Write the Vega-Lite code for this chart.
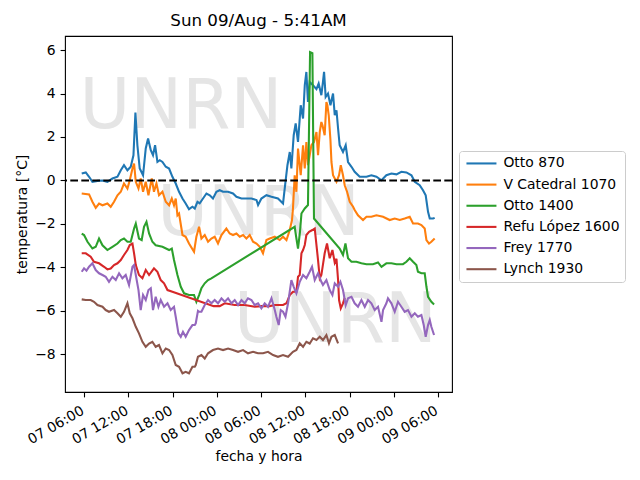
{
  "$schema": "https://vega.github.io/schema/vega-lite/v6.json",
  "width": 387,
  "height": 356,
  "autosize": {"type": "none"},
  "padding": {"left": 65, "top": 36, "right": 188, "bottom": 88},
  "background": "white",
  "config": {
    "font": "DejaVu Sans",
    "view": {"stroke": "black", "strokeWidth": 1.1}
  },
  "title": {
    "text": "Sun 09/Aug - 5:41AM",
    "fontSize": 16.7,
    "fontWeight": "normal",
    "color": "black",
    "baseline": "bottom",
    "anchor": "middle",
    "frame": "group",
    "offset": 8.3,
    "dy": 19
  },
  "datasets": {
    "marks": [
      {"label": "UNRN", "t": "2020-08-07T19:08", "v": 3.37},
      {"label": "UNRN", "t": "2020-08-08T05:40", "v": -1.54},
      {"label": "UNRN", "t": "2020-08-08T16:05", "v": -6.45}
    ],
    "temps": [
      {"s": "Otto 870", "t": "2020-08-07T05:41", "v": 0.32},
      {"s": "Otto 870", "t": "2020-08-07T06:14", "v": 0.37},
      {"s": "Otto 870", "t": "2020-08-07T06:41", "v": 0.17},
      {"s": "Otto 870", "t": "2020-08-07T07:08", "v": -0.06},
      {"s": "Otto 870", "t": "2020-08-07T07:49", "v": -0.02},
      {"s": "Otto 870", "t": "2020-08-07T08:30", "v": 0.0},
      {"s": "Otto 870", "t": "2020-08-07T09:10", "v": -0.06},
      {"s": "Otto 870", "t": "2020-08-07T09:51", "v": 0.09},
      {"s": "Otto 870", "t": "2020-08-07T10:32", "v": 0.17},
      {"s": "Otto 870", "t": "2020-08-07T10:59", "v": 0.47},
      {"s": "Otto 870", "t": "2020-08-07T11:25", "v": 0.70},
      {"s": "Otto 870", "t": "2020-08-07T11:53", "v": 0.47},
      {"s": "Otto 870", "t": "2020-08-07T12:20", "v": 0.63},
      {"s": "Otto 870", "t": "2020-08-07T12:42", "v": 1.16},
      {"s": "Otto 870", "t": "2020-08-07T12:58", "v": 3.12},
      {"s": "Otto 870", "t": "2020-08-07T13:14", "v": 1.62},
      {"s": "Otto 870", "t": "2020-08-07T13:33", "v": 0.55},
      {"s": "Otto 870", "t": "2020-08-07T14:00", "v": 0.24},
      {"s": "Otto 870", "t": "2020-08-07T14:22", "v": 1.47},
      {"s": "Otto 870", "t": "2020-08-07T14:41", "v": 1.93},
      {"s": "Otto 870", "t": "2020-08-07T15:03", "v": 1.39},
      {"s": "Otto 870", "t": "2020-08-07T15:21", "v": 1.16},
      {"s": "Otto 870", "t": "2020-08-07T15:38", "v": 1.62},
      {"s": "Otto 870", "t": "2020-08-07T15:57", "v": 0.85},
      {"s": "Otto 870", "t": "2020-08-07T16:16", "v": 0.93},
      {"s": "Otto 870", "t": "2020-08-07T16:38", "v": 0.85},
      {"s": "Otto 870", "t": "2020-08-07T17:05", "v": 0.63},
      {"s": "Otto 870", "t": "2020-08-07T17:32", "v": 0.55},
      {"s": "Otto 870", "t": "2020-08-07T17:59", "v": 0.17},
      {"s": "Otto 870", "t": "2020-08-07T18:26", "v": -0.14},
      {"s": "Otto 870", "t": "2020-08-07T18:53", "v": -0.52},
      {"s": "Otto 870", "t": "2020-08-07T19:21", "v": -0.83},
      {"s": "Otto 870", "t": "2020-08-07T19:47", "v": -1.06},
      {"s": "Otto 870", "t": "2020-08-07T20:14", "v": -1.32},
      {"s": "Otto 870", "t": "2020-08-07T20:42", "v": -1.21},
      {"s": "Otto 870", "t": "2020-08-07T21:01", "v": -1.29},
      {"s": "Otto 870", "t": "2020-08-07T21:23", "v": -0.98},
      {"s": "Otto 870", "t": "2020-08-07T21:41", "v": -1.05},
      {"s": "Otto 870", "t": "2020-08-07T22:08", "v": -0.83},
      {"s": "Otto 870", "t": "2020-08-07T22:36", "v": -0.60},
      {"s": "Otto 870", "t": "2020-08-07T23:03", "v": -0.68},
      {"s": "Otto 870", "t": "2020-08-07T23:29", "v": -0.83},
      {"s": "Otto 870", "t": "2020-08-07T23:57", "v": -0.52},
      {"s": "Otto 870", "t": "2020-08-08T00:24", "v": -0.45},
      {"s": "Otto 870", "t": "2020-08-08T00:51", "v": -0.52},
      {"s": "Otto 870", "t": "2020-08-08T01:32", "v": -0.52},
      {"s": "Otto 870", "t": "2020-08-08T02:12", "v": -0.60},
      {"s": "Otto 870", "t": "2020-08-08T02:40", "v": -0.75},
      {"s": "Otto 870", "t": "2020-08-08T03:21", "v": -0.83},
      {"s": "Otto 870", "t": "2020-08-08T04:01", "v": -0.83},
      {"s": "Otto 870", "t": "2020-08-08T04:42", "v": -0.83},
      {"s": "Otto 870", "t": "2020-08-08T05:23", "v": -0.90},
      {"s": "Otto 870", "t": "2020-08-08T05:36", "v": -1.13},
      {"s": "Otto 870", "t": "2020-08-08T06:03", "v": -0.83},
      {"s": "Otto 870", "t": "2020-08-08T06:44", "v": -0.68},
      {"s": "Otto 870", "t": "2020-08-08T07:25", "v": -0.75},
      {"s": "Otto 870", "t": "2020-08-08T08:18", "v": -0.83},
      {"s": "Otto 870", "t": "2020-08-08T08:59", "v": -1.06},
      {"s": "Otto 870", "t": "2020-08-08T09:19", "v": -0.06},
      {"s": "Otto 870", "t": "2020-08-08T09:35", "v": 0.70},
      {"s": "Otto 870", "t": "2020-08-08T09:54", "v": 1.31},
      {"s": "Otto 870", "t": "2020-08-08T10:07", "v": 0.55},
      {"s": "Otto 870", "t": "2020-08-08T10:26", "v": 2.08},
      {"s": "Otto 870", "t": "2020-08-08T10:42", "v": 2.62},
      {"s": "Otto 870", "t": "2020-08-08T11:01", "v": 1.77},
      {"s": "Otto 870", "t": "2020-08-08T11:23", "v": 3.46},
      {"s": "Otto 870", "t": "2020-08-08T11:42", "v": 2.85},
      {"s": "Otto 870", "t": "2020-08-08T11:56", "v": 4.38},
      {"s": "Otto 870", "t": "2020-08-08T12:09", "v": 4.99},
      {"s": "Otto 870", "t": "2020-08-08T12:22", "v": 3.61},
      {"s": "Otto 870", "t": "2020-08-08T12:36", "v": 4.53},
      {"s": "Otto 870", "t": "2020-08-08T13:03", "v": 4.38},
      {"s": "Otto 870", "t": "2020-08-08T13:31", "v": 4.20},
      {"s": "Otto 870", "t": "2020-08-08T13:49", "v": 4.46},
      {"s": "Otto 870", "t": "2020-08-08T14:11", "v": 3.92},
      {"s": "Otto 870", "t": "2020-08-08T14:24", "v": 4.53},
      {"s": "Otto 870", "t": "2020-08-08T14:33", "v": 5.0},
      {"s": "Otto 870", "t": "2020-08-08T14:46", "v": 3.84},
      {"s": "Otto 870", "t": "2020-08-08T15:05", "v": 4.0},
      {"s": "Otto 870", "t": "2020-08-08T15:25", "v": 3.46},
      {"s": "Otto 870", "t": "2020-08-08T15:46", "v": 4.0},
      {"s": "Otto 870", "t": "2020-08-08T16:00", "v": 3.0},
      {"s": "Otto 870", "t": "2020-08-08T16:14", "v": 3.23},
      {"s": "Otto 870", "t": "2020-08-08T16:27", "v": 2.39},
      {"s": "Otto 870", "t": "2020-08-08T16:40", "v": 1.62},
      {"s": "Otto 870", "t": "2020-08-08T17:07", "v": 1.31},
      {"s": "Otto 870", "t": "2020-08-08T17:29", "v": 1.62},
      {"s": "Otto 870", "t": "2020-08-08T17:48", "v": 0.85},
      {"s": "Otto 870", "t": "2020-08-08T18:16", "v": 0.63},
      {"s": "Otto 870", "t": "2020-08-08T18:42", "v": 0.40},
      {"s": "Otto 870", "t": "2020-08-08T19:23", "v": 0.17},
      {"s": "Otto 870", "t": "2020-08-08T20:18", "v": 0.17},
      {"s": "Otto 870", "t": "2020-08-08T20:58", "v": 0.24},
      {"s": "Otto 870", "t": "2020-08-08T21:39", "v": 0.17},
      {"s": "Otto 870", "t": "2020-08-08T22:20", "v": 0.01},
      {"s": "Otto 870", "t": "2020-08-08T23:00", "v": 0.24},
      {"s": "Otto 870", "t": "2020-08-08T23:41", "v": 0.32},
      {"s": "Otto 870", "t": "2020-08-09T00:22", "v": 0.28},
      {"s": "Otto 870", "t": "2020-08-09T01:02", "v": 0.40},
      {"s": "Otto 870", "t": "2020-08-09T01:43", "v": 0.37},
      {"s": "Otto 870", "t": "2020-08-09T02:24", "v": 0.24},
      {"s": "Otto 870", "t": "2020-08-09T02:51", "v": -0.06},
      {"s": "Otto 870", "t": "2020-08-09T03:31", "v": -0.22},
      {"s": "Otto 870", "t": "2020-08-09T03:58", "v": -0.45},
      {"s": "Otto 870", "t": "2020-08-09T04:20", "v": -0.68},
      {"s": "Otto 870", "t": "2020-08-09T04:39", "v": -1.44},
      {"s": "Otto 870", "t": "2020-08-09T04:53", "v": -1.75},
      {"s": "Otto 870", "t": "2020-08-09T05:20", "v": -1.75},
      {"s": "Otto 870", "t": "2020-08-09T05:33", "v": -1.72},

      {"s": "V Catedral 1070", "t": "2020-08-07T05:41", "v": -0.60},
      {"s": "V Catedral 1070", "t": "2020-08-07T06:41", "v": -0.64},
      {"s": "V Catedral 1070", "t": "2020-08-07T07:08", "v": -0.98},
      {"s": "V Catedral 1070", "t": "2020-08-07T07:35", "v": -1.26},
      {"s": "V Catedral 1070", "t": "2020-08-07T08:02", "v": -1.06},
      {"s": "V Catedral 1070", "t": "2020-08-07T08:30", "v": -1.14},
      {"s": "V Catedral 1070", "t": "2020-08-07T09:10", "v": -1.06},
      {"s": "V Catedral 1070", "t": "2020-08-07T09:37", "v": -1.21},
      {"s": "V Catedral 1070", "t": "2020-08-07T10:04", "v": -0.98},
      {"s": "V Catedral 1070", "t": "2020-08-07T10:32", "v": -0.68},
      {"s": "V Catedral 1070", "t": "2020-08-07T10:59", "v": -0.52},
      {"s": "V Catedral 1070", "t": "2020-08-07T11:25", "v": -0.14},
      {"s": "V Catedral 1070", "t": "2020-08-07T11:53", "v": -0.37},
      {"s": "V Catedral 1070", "t": "2020-08-07T12:12", "v": 0.01},
      {"s": "V Catedral 1070", "t": "2020-08-07T12:34", "v": 0.55},
      {"s": "V Catedral 1070", "t": "2020-08-07T12:47", "v": 0.78},
      {"s": "V Catedral 1070", "t": "2020-08-07T13:01", "v": -0.06},
      {"s": "V Catedral 1070", "t": "2020-08-07T13:23", "v": -0.37},
      {"s": "V Catedral 1070", "t": "2020-08-07T13:41", "v": 0.09},
      {"s": "V Catedral 1070", "t": "2020-08-07T14:00", "v": -0.52},
      {"s": "V Catedral 1070", "t": "2020-08-07T14:22", "v": -0.06},
      {"s": "V Catedral 1070", "t": "2020-08-07T14:44", "v": -0.68},
      {"s": "V Catedral 1070", "t": "2020-08-07T15:11", "v": 0.09},
      {"s": "V Catedral 1070", "t": "2020-08-07T15:29", "v": -0.52},
      {"s": "V Catedral 1070", "t": "2020-08-07T15:49", "v": -0.14},
      {"s": "V Catedral 1070", "t": "2020-08-07T16:10", "v": -0.68},
      {"s": "V Catedral 1070", "t": "2020-08-07T16:38", "v": -0.52},
      {"s": "V Catedral 1070", "t": "2020-08-07T17:05", "v": -0.98},
      {"s": "V Catedral 1070", "t": "2020-08-07T17:32", "v": -1.14},
      {"s": "V Catedral 1070", "t": "2020-08-07T17:54", "v": -0.83},
      {"s": "V Catedral 1070", "t": "2020-08-07T18:12", "v": -1.14},
      {"s": "V Catedral 1070", "t": "2020-08-07T18:26", "v": -0.83},
      {"s": "V Catedral 1070", "t": "2020-08-07T18:40", "v": -1.60},
      {"s": "V Catedral 1070", "t": "2020-08-07T18:53", "v": -1.52},
      {"s": "V Catedral 1070", "t": "2020-08-07T19:21", "v": -2.51},
      {"s": "V Catedral 1070", "t": "2020-08-07T19:47", "v": -2.59},
      {"s": "V Catedral 1070", "t": "2020-08-07T20:14", "v": -2.90},
      {"s": "V Catedral 1070", "t": "2020-08-07T20:55", "v": -3.28},
      {"s": "V Catedral 1070", "t": "2020-08-07T21:14", "v": -2.59},
      {"s": "V Catedral 1070", "t": "2020-08-07T21:36", "v": -2.13},
      {"s": "V Catedral 1070", "t": "2020-08-07T21:55", "v": -2.67},
      {"s": "V Catedral 1070", "t": "2020-08-07T22:22", "v": -2.51},
      {"s": "V Catedral 1070", "t": "2020-08-07T22:49", "v": -2.82},
      {"s": "V Catedral 1070", "t": "2020-08-07T23:16", "v": -2.67},
      {"s": "V Catedral 1070", "t": "2020-08-07T23:43", "v": -2.59},
      {"s": "V Catedral 1070", "t": "2020-08-08T00:10", "v": -2.90},
      {"s": "V Catedral 1070", "t": "2020-08-08T00:38", "v": -2.51},
      {"s": "V Catedral 1070", "t": "2020-08-08T01:18", "v": -2.21},
      {"s": "V Catedral 1070", "t": "2020-08-08T01:45", "v": -2.44},
      {"s": "V Catedral 1070", "t": "2020-08-08T02:12", "v": -2.51},
      {"s": "V Catedral 1070", "t": "2020-08-08T02:40", "v": -2.44},
      {"s": "V Catedral 1070", "t": "2020-08-08T03:07", "v": -2.59},
      {"s": "V Catedral 1070", "t": "2020-08-08T03:34", "v": -2.51},
      {"s": "V Catedral 1070", "t": "2020-08-08T04:01", "v": -2.67},
      {"s": "V Catedral 1070", "t": "2020-08-08T04:28", "v": -2.51},
      {"s": "V Catedral 1070", "t": "2020-08-08T04:55", "v": -2.82},
      {"s": "V Catedral 1070", "t": "2020-08-08T05:23", "v": -2.90},
      {"s": "V Catedral 1070", "t": "2020-08-08T05:50", "v": -3.05},
      {"s": "V Catedral 1070", "t": "2020-08-08T06:16", "v": -3.35},
      {"s": "V Catedral 1070", "t": "2020-08-08T06:44", "v": -2.74},
      {"s": "V Catedral 1070", "t": "2020-08-08T07:11", "v": -2.67},
      {"s": "V Catedral 1070", "t": "2020-08-08T07:52", "v": -2.59},
      {"s": "V Catedral 1070", "t": "2020-08-08T08:32", "v": -2.74},
      {"s": "V Catedral 1070", "t": "2020-08-08T08:59", "v": -2.59},
      {"s": "V Catedral 1070", "t": "2020-08-08T09:27", "v": -2.74},
      {"s": "V Catedral 1070", "t": "2020-08-08T09:54", "v": -2.28},
      {"s": "V Catedral 1070", "t": "2020-08-08T10:12", "v": -1.82},
      {"s": "V Catedral 1070", "t": "2020-08-08T10:20", "v": -1.29},
      {"s": "V Catedral 1070", "t": "2020-08-08T10:34", "v": 0.24},
      {"s": "V Catedral 1070", "t": "2020-08-08T10:48", "v": -0.52},
      {"s": "V Catedral 1070", "t": "2020-08-08T11:01", "v": 1.47},
      {"s": "V Catedral 1070", "t": "2020-08-08T11:23", "v": 0.24},
      {"s": "V Catedral 1070", "t": "2020-08-08T11:42", "v": 1.62},
      {"s": "V Catedral 1070", "t": "2020-08-08T11:56", "v": 0.55},
      {"s": "V Catedral 1070", "t": "2020-08-08T12:09", "v": 1.77},
      {"s": "V Catedral 1070", "t": "2020-08-08T12:22", "v": 0.70},
      {"s": "V Catedral 1070", "t": "2020-08-08T12:50", "v": 1.62},
      {"s": "V Catedral 1070", "t": "2020-08-08T13:11", "v": 1.77},
      {"s": "V Catedral 1070", "t": "2020-08-08T13:31", "v": 2.23},
      {"s": "V Catedral 1070", "t": "2020-08-08T13:44", "v": 1.16},
      {"s": "V Catedral 1070", "t": "2020-08-08T13:58", "v": 2.23},
      {"s": "V Catedral 1070", "t": "2020-08-08T14:11", "v": 2.69},
      {"s": "V Catedral 1070", "t": "2020-08-08T14:20", "v": 2.54},
      {"s": "V Catedral 1070", "t": "2020-08-08T14:38", "v": 2.08},
      {"s": "V Catedral 1070", "t": "2020-08-08T14:52", "v": 3.61},
      {"s": "V Catedral 1070", "t": "2020-08-08T15:00", "v": 3.46},
      {"s": "V Catedral 1070", "t": "2020-08-08T15:11", "v": 3.00},
      {"s": "V Catedral 1070", "t": "2020-08-08T15:25", "v": 1.85},
      {"s": "V Catedral 1070", "t": "2020-08-08T15:33", "v": 0.85},
      {"s": "V Catedral 1070", "t": "2020-08-08T15:46", "v": 0.24},
      {"s": "V Catedral 1070", "t": "2020-08-08T16:14", "v": -0.06},
      {"s": "V Catedral 1070", "t": "2020-08-08T16:35", "v": 0.24},
      {"s": "V Catedral 1070", "t": "2020-08-08T16:49", "v": 0.70},
      {"s": "V Catedral 1070", "t": "2020-08-08T17:07", "v": 0.24},
      {"s": "V Catedral 1070", "t": "2020-08-08T17:21", "v": -0.22},
      {"s": "V Catedral 1070", "t": "2020-08-08T17:40", "v": -0.52},
      {"s": "V Catedral 1070", "t": "2020-08-08T18:02", "v": -0.98},
      {"s": "V Catedral 1070", "t": "2020-08-08T18:29", "v": -1.21},
      {"s": "V Catedral 1070", "t": "2020-08-08T18:42", "v": -1.36},
      {"s": "V Catedral 1070", "t": "2020-08-08T19:09", "v": -1.60},
      {"s": "V Catedral 1070", "t": "2020-08-08T19:50", "v": -1.82},
      {"s": "V Catedral 1070", "t": "2020-08-08T20:18", "v": -1.67},
      {"s": "V Catedral 1070", "t": "2020-08-08T20:58", "v": -1.67},
      {"s": "V Catedral 1070", "t": "2020-08-08T21:39", "v": -1.60},
      {"s": "V Catedral 1070", "t": "2020-08-08T22:33", "v": -1.67},
      {"s": "V Catedral 1070", "t": "2020-08-08T23:27", "v": -1.82},
      {"s": "V Catedral 1070", "t": "2020-08-09T00:08", "v": -1.75},
      {"s": "V Catedral 1070", "t": "2020-08-09T00:49", "v": -1.82},
      {"s": "V Catedral 1070", "t": "2020-08-09T01:29", "v": -1.75},
      {"s": "V Catedral 1070", "t": "2020-08-09T02:10", "v": -1.67},
      {"s": "V Catedral 1070", "t": "2020-08-09T02:37", "v": -1.98},
      {"s": "V Catedral 1070", "t": "2020-08-09T03:17", "v": -1.98},
      {"s": "V Catedral 1070", "t": "2020-08-09T03:45", "v": -2.05},
      {"s": "V Catedral 1070", "t": "2020-08-09T04:12", "v": -2.21},
      {"s": "V Catedral 1070", "t": "2020-08-09T04:26", "v": -2.74},
      {"s": "V Catedral 1070", "t": "2020-08-09T04:47", "v": -2.90},
      {"s": "V Catedral 1070", "t": "2020-08-09T05:06", "v": -2.82},
      {"s": "V Catedral 1070", "t": "2020-08-09T05:33", "v": -2.67},

      {"s": "Otto 1400", "t": "2020-08-07T05:41", "v": -2.44},
      {"s": "Otto 1400", "t": "2020-08-07T06:00", "v": -2.51},
      {"s": "Otto 1400", "t": "2020-08-07T06:28", "v": -2.82},
      {"s": "Otto 1400", "t": "2020-08-07T07:08", "v": -3.13},
      {"s": "Otto 1400", "t": "2020-08-07T07:35", "v": -3.05},
      {"s": "Otto 1400", "t": "2020-08-07T08:02", "v": -2.67},
      {"s": "Otto 1400", "t": "2020-08-07T08:30", "v": -2.98},
      {"s": "Otto 1400", "t": "2020-08-07T09:10", "v": -3.20},
      {"s": "Otto 1400", "t": "2020-08-07T09:51", "v": -3.05},
      {"s": "Otto 1400", "t": "2020-08-07T10:32", "v": -2.90},
      {"s": "Otto 1400", "t": "2020-08-07T10:59", "v": -2.74},
      {"s": "Otto 1400", "t": "2020-08-07T11:25", "v": -2.67},
      {"s": "Otto 1400", "t": "2020-08-07T11:53", "v": -2.82},
      {"s": "Otto 1400", "t": "2020-08-07T12:20", "v": -2.82},
      {"s": "Otto 1400", "t": "2020-08-07T12:47", "v": -2.21},
      {"s": "Otto 1400", "t": "2020-08-07T13:01", "v": -1.98},
      {"s": "Otto 1400", "t": "2020-08-07T13:27", "v": -2.67},
      {"s": "Otto 1400", "t": "2020-08-07T13:49", "v": -2.74},
      {"s": "Otto 1400", "t": "2020-08-07T14:08", "v": -2.13},
      {"s": "Otto 1400", "t": "2020-08-07T14:28", "v": -1.90},
      {"s": "Otto 1400", "t": "2020-08-07T14:49", "v": -2.44},
      {"s": "Otto 1400", "t": "2020-08-07T15:16", "v": -2.82},
      {"s": "Otto 1400", "t": "2020-08-07T15:43", "v": -2.98},
      {"s": "Otto 1400", "t": "2020-08-07T16:38", "v": -3.05},
      {"s": "Otto 1400", "t": "2020-08-07T17:32", "v": -3.20},
      {"s": "Otto 1400", "t": "2020-08-07T17:54", "v": -3.13},
      {"s": "Otto 1400", "t": "2020-08-07T18:12", "v": -3.66},
      {"s": "Otto 1400", "t": "2020-08-07T18:40", "v": -4.35},
      {"s": "Otto 1400", "t": "2020-08-07T19:07", "v": -4.89},
      {"s": "Otto 1400", "t": "2020-08-07T19:34", "v": -5.19},
      {"s": "Otto 1400", "t": "2020-08-07T20:14", "v": -5.27},
      {"s": "Otto 1400", "t": "2020-08-07T20:55", "v": -5.27},
      {"s": "Otto 1400", "t": "2020-08-07T21:14", "v": -5.58},
      {"s": "Otto 1400", "t": "2020-08-07T21:36", "v": -5.27},
      {"s": "Otto 1400", "t": "2020-08-07T21:55", "v": -4.96},
      {"s": "Otto 1400", "t": "2020-08-07T22:22", "v": -4.73},
      {"s": "Otto 1400", "t": "2020-08-07T22:49", "v": -4.58},
      {"s": "Otto 1400", "t": "2020-08-07T23:16", "v": -4.50},
      {"s": "Otto 1400", "t": "2020-08-08T10:34", "v": -2.13},
      {"s": "Otto 1400", "t": "2020-08-08T10:48", "v": -2.67},
      {"s": "Otto 1400", "t": "2020-08-08T11:01", "v": -3.13},
      {"s": "Otto 1400", "t": "2020-08-08T11:17", "v": -2.36},
      {"s": "Otto 1400", "t": "2020-08-08T11:29", "v": -1.52},
      {"s": "Otto 1400", "t": "2020-08-08T11:56", "v": -1.29},
      {"s": "Otto 1400", "t": "2020-08-08T12:22", "v": -1.13},
      {"s": "Otto 1400", "t": "2020-08-08T12:39", "v": 5.9},
      {"s": "Otto 1400", "t": "2020-08-08T12:58", "v": 5.85},
      {"s": "Otto 1400", "t": "2020-08-08T13:11", "v": -1.75},
      {"s": "Otto 1400", "t": "2020-08-08T16:40", "v": -3.13},
      {"s": "Otto 1400", "t": "2020-08-08T17:07", "v": -3.43},
      {"s": "Otto 1400", "t": "2020-08-08T17:27", "v": -2.90},
      {"s": "Otto 1400", "t": "2020-08-08T17:48", "v": -3.58},
      {"s": "Otto 1400", "t": "2020-08-08T18:16", "v": -3.74},
      {"s": "Otto 1400", "t": "2020-08-08T18:56", "v": -3.74},
      {"s": "Otto 1400", "t": "2020-08-08T19:37", "v": -3.81},
      {"s": "Otto 1400", "t": "2020-08-08T20:18", "v": -3.85},
      {"s": "Otto 1400", "t": "2020-08-08T21:11", "v": -3.85},
      {"s": "Otto 1400", "t": "2020-08-08T21:52", "v": -3.77},
      {"s": "Otto 1400", "t": "2020-08-08T22:20", "v": -3.97},
      {"s": "Otto 1400", "t": "2020-08-08T23:00", "v": -3.81},
      {"s": "Otto 1400", "t": "2020-08-08T23:41", "v": -3.81},
      {"s": "Otto 1400", "t": "2020-08-09T00:22", "v": -3.85},
      {"s": "Otto 1400", "t": "2020-08-09T01:15", "v": -3.85},
      {"s": "Otto 1400", "t": "2020-08-09T01:43", "v": -3.74},
      {"s": "Otto 1400", "t": "2020-08-09T02:10", "v": -3.58},
      {"s": "Otto 1400", "t": "2020-08-09T02:37", "v": -3.74},
      {"s": "Otto 1400", "t": "2020-08-09T03:04", "v": -3.89},
      {"s": "Otto 1400", "t": "2020-08-09T03:17", "v": -4.20},
      {"s": "Otto 1400", "t": "2020-08-09T03:45", "v": -4.27},
      {"s": "Otto 1400", "t": "2020-08-09T04:12", "v": -4.27},
      {"s": "Otto 1400", "t": "2020-08-09T04:26", "v": -4.89},
      {"s": "Otto 1400", "t": "2020-08-09T04:39", "v": -5.35},
      {"s": "Otto 1400", "t": "2020-08-09T05:06", "v": -5.58},
      {"s": "Otto 1400", "t": "2020-08-09T05:28", "v": -5.70},

      {"s": "Refu López 1600", "t": "2020-08-07T05:41", "v": -3.35},
      {"s": "Refu López 1600", "t": "2020-08-07T06:14", "v": -3.35},
      {"s": "Refu López 1600", "t": "2020-08-07T06:54", "v": -3.51},
      {"s": "Refu López 1600", "t": "2020-08-07T07:21", "v": -3.74},
      {"s": "Refu López 1600", "t": "2020-08-07T08:02", "v": -3.81},
      {"s": "Refu López 1600", "t": "2020-08-07T08:43", "v": -3.97},
      {"s": "Refu López 1600", "t": "2020-08-07T09:10", "v": -4.09},
      {"s": "Refu López 1600", "t": "2020-08-07T09:37", "v": -4.05},
      {"s": "Refu López 1600", "t": "2020-08-07T10:04", "v": -3.89},
      {"s": "Refu López 1600", "t": "2020-08-07T10:32", "v": -3.81},
      {"s": "Refu López 1600", "t": "2020-08-07T10:59", "v": -3.66},
      {"s": "Refu López 1600", "t": "2020-08-07T11:25", "v": -3.43},
      {"s": "Refu López 1600", "t": "2020-08-07T11:53", "v": -3.20},
      {"s": "Refu López 1600", "t": "2020-08-07T12:12", "v": -2.97},
      {"s": "Refu López 1600", "t": "2020-08-07T12:34", "v": -2.90},
      {"s": "Refu López 1600", "t": "2020-08-07T12:47", "v": -3.35},
      {"s": "Refu López 1600", "t": "2020-08-07T13:01", "v": -3.89},
      {"s": "Refu López 1600", "t": "2020-08-07T13:27", "v": -4.35},
      {"s": "Refu López 1600", "t": "2020-08-07T13:55", "v": -4.50},
      {"s": "Refu López 1600", "t": "2020-08-07T14:22", "v": -4.12},
      {"s": "Refu López 1600", "t": "2020-08-07T14:49", "v": -4.35},
      {"s": "Refu López 1600", "t": "2020-08-07T15:29", "v": -4.04},
      {"s": "Refu López 1600", "t": "2020-08-07T15:57", "v": -4.20},
      {"s": "Refu López 1600", "t": "2020-08-07T16:24", "v": -4.58},
      {"s": "Refu López 1600", "t": "2020-08-07T16:51", "v": -4.73},
      {"s": "Refu López 1600", "t": "2020-08-07T17:19", "v": -5.04},
      {"s": "Refu López 1600", "t": "2020-08-07T17:59", "v": -5.12},
      {"s": "Refu López 1600", "t": "2020-08-07T23:35", "v": -5.78},
      {"s": "Refu López 1600", "t": "2020-08-08T00:24", "v": -5.78},
      {"s": "Refu López 1600", "t": "2020-08-08T01:05", "v": -5.65},
      {"s": "Refu López 1600", "t": "2020-08-08T02:26", "v": -5.73},
      {"s": "Refu López 1600", "t": "2020-08-08T03:47", "v": -5.73},
      {"s": "Refu López 1600", "t": "2020-08-08T05:09", "v": -5.81},
      {"s": "Refu López 1600", "t": "2020-08-08T06:03", "v": -5.78},
      {"s": "Refu López 1600", "t": "2020-08-08T07:11", "v": -5.78},
      {"s": "Refu López 1600", "t": "2020-08-08T07:52", "v": -5.73},
      {"s": "Refu López 1600", "t": "2020-08-08T08:59", "v": -5.73},
      {"s": "Refu López 1600", "t": "2020-08-08T09:27", "v": -5.65},
      {"s": "Refu López 1600", "t": "2020-08-08T09:54", "v": -5.27},
      {"s": "Refu López 1600", "t": "2020-08-08T10:20", "v": -5.12},
      {"s": "Refu López 1600", "t": "2020-08-08T10:48", "v": -5.12},
      {"s": "Refu López 1600", "t": "2020-08-08T11:01", "v": -4.43},
      {"s": "Refu López 1600", "t": "2020-08-08T11:15", "v": -4.35},
      {"s": "Refu López 1600", "t": "2020-08-08T11:29", "v": -3.35},
      {"s": "Refu López 1600", "t": "2020-08-08T11:42", "v": -3.20},
      {"s": "Refu López 1600", "t": "2020-08-08T11:56", "v": -2.97},
      {"s": "Refu López 1600", "t": "2020-08-08T12:09", "v": -2.51},
      {"s": "Refu López 1600", "t": "2020-08-08T12:31", "v": -2.36},
      {"s": "Refu López 1600", "t": "2020-08-08T12:58", "v": -2.28},
      {"s": "Refu López 1600", "t": "2020-08-08T13:17", "v": -2.21},
      {"s": "Refu López 1600", "t": "2020-08-08T13:44", "v": -3.66},
      {"s": "Refu López 1600", "t": "2020-08-08T13:58", "v": -4.50},
      {"s": "Refu López 1600", "t": "2020-08-08T14:11", "v": -4.35},
      {"s": "Refu López 1600", "t": "2020-08-08T14:38", "v": -3.35},
      {"s": "Refu López 1600", "t": "2020-08-08T14:57", "v": -2.90},
      {"s": "Refu López 1600", "t": "2020-08-08T15:19", "v": -3.58},
      {"s": "Refu López 1600", "t": "2020-08-08T15:41", "v": -3.20},
      {"s": "Refu López 1600", "t": "2020-08-08T16:00", "v": -3.78},
      {"s": "Refu López 1600", "t": "2020-08-08T16:14", "v": -3.60},
      {"s": "Refu López 1600", "t": "2020-08-08T16:27", "v": -4.58},
      {"s": "Refu López 1600", "t": "2020-08-08T16:35", "v": -5.50},
      {"s": "Refu López 1600", "t": "2020-08-08T16:49", "v": -5.88},
      {"s": "Refu López 1600", "t": "2020-08-08T17:07", "v": -5.65},
      {"s": "Refu López 1600", "t": "2020-08-08T17:21", "v": -5.40},

      {"s": "Frey 1770", "t": "2020-08-07T05:41", "v": -4.20},
      {"s": "Frey 1770", "t": "2020-08-07T06:00", "v": -4.04},
      {"s": "Frey 1770", "t": "2020-08-07T06:20", "v": -4.15},
      {"s": "Frey 1770", "t": "2020-08-07T06:41", "v": -3.97},
      {"s": "Frey 1770", "t": "2020-08-07T07:08", "v": -3.81},
      {"s": "Frey 1770", "t": "2020-08-07T07:35", "v": -4.12},
      {"s": "Frey 1770", "t": "2020-08-07T08:02", "v": -4.27},
      {"s": "Frey 1770", "t": "2020-08-07T08:30", "v": -4.35},
      {"s": "Frey 1770", "t": "2020-08-07T08:56", "v": -4.43},
      {"s": "Frey 1770", "t": "2020-08-07T09:23", "v": -4.66},
      {"s": "Frey 1770", "t": "2020-08-07T09:51", "v": -4.43},
      {"s": "Frey 1770", "t": "2020-08-07T10:18", "v": -4.58},
      {"s": "Frey 1770", "t": "2020-08-07T10:45", "v": -4.27},
      {"s": "Frey 1770", "t": "2020-08-07T11:12", "v": -4.50},
      {"s": "Frey 1770", "t": "2020-08-07T11:39", "v": -4.35},
      {"s": "Frey 1770", "t": "2020-08-07T12:06", "v": -4.81},
      {"s": "Frey 1770", "t": "2020-08-07T12:34", "v": -3.97},
      {"s": "Frey 1770", "t": "2020-08-07T12:47", "v": -3.89},
      {"s": "Frey 1770", "t": "2020-08-07T13:01", "v": -4.35},
      {"s": "Frey 1770", "t": "2020-08-07T13:23", "v": -5.04},
      {"s": "Frey 1770", "t": "2020-08-07T13:41", "v": -5.96},
      {"s": "Frey 1770", "t": "2020-08-07T14:00", "v": -5.27},
      {"s": "Frey 1770", "t": "2020-08-07T14:22", "v": -5.50},
      {"s": "Frey 1770", "t": "2020-08-07T14:44", "v": -5.04},
      {"s": "Frey 1770", "t": "2020-08-07T15:03", "v": -4.96},
      {"s": "Frey 1770", "t": "2020-08-07T15:21", "v": -5.96},
      {"s": "Frey 1770", "t": "2020-08-07T15:43", "v": -5.35},
      {"s": "Frey 1770", "t": "2020-08-07T16:05", "v": -5.81},
      {"s": "Frey 1770", "t": "2020-08-07T16:24", "v": -5.50},
      {"s": "Frey 1770", "t": "2020-08-07T16:51", "v": -5.81},
      {"s": "Frey 1770", "t": "2020-08-07T17:19", "v": -5.65},
      {"s": "Frey 1770", "t": "2020-08-07T17:45", "v": -5.96},
      {"s": "Frey 1770", "t": "2020-08-07T18:12", "v": -5.81},
      {"s": "Frey 1770", "t": "2020-08-07T18:26", "v": -6.27},
      {"s": "Frey 1770", "t": "2020-08-07T18:48", "v": -7.03},
      {"s": "Frey 1770", "t": "2020-08-07T19:07", "v": -7.19},
      {"s": "Frey 1770", "t": "2020-08-07T19:25", "v": -6.96},
      {"s": "Frey 1770", "t": "2020-08-07T19:47", "v": -7.19},
      {"s": "Frey 1770", "t": "2020-08-07T20:14", "v": -6.88},
      {"s": "Frey 1770", "t": "2020-08-07T20:42", "v": -6.65},
      {"s": "Frey 1770", "t": "2020-08-07T21:01", "v": -6.65},
      {"s": "Frey 1770", "t": "2020-08-07T21:09", "v": -6.57},
      {"s": "Frey 1770", "t": "2020-08-07T21:27", "v": -6.00},
      {"s": "Frey 1770", "t": "2020-08-07T21:36", "v": -6.04},
      {"s": "Frey 1770", "t": "2020-08-07T21:55", "v": -6.04},
      {"s": "Frey 1770", "t": "2020-08-07T22:22", "v": -5.73},
      {"s": "Frey 1770", "t": "2020-08-07T22:49", "v": -5.50},
      {"s": "Frey 1770", "t": "2020-08-07T23:16", "v": -5.65},
      {"s": "Frey 1770", "t": "2020-08-07T23:43", "v": -5.50},
      {"s": "Frey 1770", "t": "2020-08-08T00:10", "v": -5.65},
      {"s": "Frey 1770", "t": "2020-08-08T00:38", "v": -5.42},
      {"s": "Frey 1770", "t": "2020-08-08T01:05", "v": -5.58},
      {"s": "Frey 1770", "t": "2020-08-08T01:32", "v": -5.42},
      {"s": "Frey 1770", "t": "2020-08-08T01:59", "v": -5.65},
      {"s": "Frey 1770", "t": "2020-08-08T02:26", "v": -5.50},
      {"s": "Frey 1770", "t": "2020-08-08T02:53", "v": -5.73},
      {"s": "Frey 1770", "t": "2020-08-08T03:21", "v": -5.50},
      {"s": "Frey 1770", "t": "2020-08-08T03:47", "v": -5.65},
      {"s": "Frey 1770", "t": "2020-08-08T04:14", "v": -5.42},
      {"s": "Frey 1770", "t": "2020-08-08T04:42", "v": -5.50},
      {"s": "Frey 1770", "t": "2020-08-08T05:09", "v": -5.73},
      {"s": "Frey 1770", "t": "2020-08-08T05:36", "v": -5.65},
      {"s": "Frey 1770", "t": "2020-08-08T06:03", "v": -5.88},
      {"s": "Frey 1770", "t": "2020-08-08T06:30", "v": -5.65},
      {"s": "Frey 1770", "t": "2020-08-08T06:57", "v": -5.81},
      {"s": "Frey 1770", "t": "2020-08-08T07:25", "v": -5.42},
      {"s": "Frey 1770", "t": "2020-08-08T07:52", "v": -5.96},
      {"s": "Frey 1770", "t": "2020-08-08T08:05", "v": -6.27},
      {"s": "Frey 1770", "t": "2020-08-08T08:24", "v": -6.65},
      {"s": "Frey 1770", "t": "2020-08-08T08:40", "v": -5.96},
      {"s": "Frey 1770", "t": "2020-08-08T08:59", "v": -6.04},
      {"s": "Frey 1770", "t": "2020-08-08T09:19", "v": -6.27},
      {"s": "Frey 1770", "t": "2020-08-08T09:40", "v": -5.65},
      {"s": "Frey 1770", "t": "2020-08-08T10:07", "v": -4.58},
      {"s": "Frey 1770", "t": "2020-08-08T10:26", "v": -4.89},
      {"s": "Frey 1770", "t": "2020-08-08T10:48", "v": -5.19},
      {"s": "Frey 1770", "t": "2020-08-08T11:15", "v": -4.66},
      {"s": "Frey 1770", "t": "2020-08-08T11:42", "v": -4.35},
      {"s": "Frey 1770", "t": "2020-08-08T12:09", "v": -4.50},
      {"s": "Frey 1770", "t": "2020-08-08T12:36", "v": -4.20},
      {"s": "Frey 1770", "t": "2020-08-08T12:55", "v": -3.97},
      {"s": "Frey 1770", "t": "2020-08-08T13:17", "v": -4.58},
      {"s": "Frey 1770", "t": "2020-08-08T13:44", "v": -4.27},
      {"s": "Frey 1770", "t": "2020-08-08T14:11", "v": -4.66},
      {"s": "Frey 1770", "t": "2020-08-08T14:24", "v": -4.81},
      {"s": "Frey 1770", "t": "2020-08-08T14:52", "v": -4.58},
      {"s": "Frey 1770", "t": "2020-08-08T15:19", "v": -5.04},
      {"s": "Frey 1770", "t": "2020-08-08T15:41", "v": -5.27},
      {"s": "Frey 1770", "t": "2020-08-08T16:00", "v": -4.73},
      {"s": "Frey 1770", "t": "2020-08-08T16:27", "v": -4.89},
      {"s": "Frey 1770", "t": "2020-08-08T16:46", "v": -4.66},
      {"s": "Frey 1770", "t": "2020-08-08T17:07", "v": -5.04},
      {"s": "Frey 1770", "t": "2020-08-08T17:29", "v": -5.73},
      {"s": "Frey 1770", "t": "2020-08-08T17:48", "v": -5.42},
      {"s": "Frey 1770", "t": "2020-08-08T18:16", "v": -5.35},
      {"s": "Frey 1770", "t": "2020-08-08T18:42", "v": -5.65},
      {"s": "Frey 1770", "t": "2020-08-08T19:09", "v": -5.81},
      {"s": "Frey 1770", "t": "2020-08-08T19:37", "v": -5.50},
      {"s": "Frey 1770", "t": "2020-08-08T20:04", "v": -5.81},
      {"s": "Frey 1770", "t": "2020-08-08T20:31", "v": -5.50},
      {"s": "Frey 1770", "t": "2020-08-08T20:58", "v": -5.65},
      {"s": "Frey 1770", "t": "2020-08-08T21:25", "v": -5.96},
      {"s": "Frey 1770", "t": "2020-08-08T21:52", "v": -5.81},
      {"s": "Frey 1770", "t": "2020-08-08T22:20", "v": -6.50},
      {"s": "Frey 1770", "t": "2020-08-08T22:33", "v": -5.96},
      {"s": "Frey 1770", "t": "2020-08-08T23:00", "v": -5.65},
      {"s": "Frey 1770", "t": "2020-08-08T23:13", "v": -5.42},
      {"s": "Frey 1770", "t": "2020-08-08T23:41", "v": -5.65},
      {"s": "Frey 1770", "t": "2020-08-09T00:08", "v": -6.04},
      {"s": "Frey 1770", "t": "2020-08-09T00:35", "v": -5.58},
      {"s": "Frey 1770", "t": "2020-08-09T01:02", "v": -5.81},
      {"s": "Frey 1770", "t": "2020-08-09T01:29", "v": -6.04},
      {"s": "Frey 1770", "t": "2020-08-09T01:56", "v": -5.96},
      {"s": "Frey 1770", "t": "2020-08-09T02:24", "v": -6.27},
      {"s": "Frey 1770", "t": "2020-08-09T02:51", "v": -6.11},
      {"s": "Frey 1770", "t": "2020-08-09T03:17", "v": -6.27},
      {"s": "Frey 1770", "t": "2020-08-09T03:45", "v": -6.19},
      {"s": "Frey 1770", "t": "2020-08-09T04:04", "v": -6.65},
      {"s": "Frey 1770", "t": "2020-08-09T04:20", "v": -7.19},
      {"s": "Frey 1770", "t": "2020-08-09T04:39", "v": -6.65},
      {"s": "Frey 1770", "t": "2020-08-09T04:53", "v": -6.42},
      {"s": "Frey 1770", "t": "2020-08-09T05:06", "v": -6.73},
      {"s": "Frey 1770", "t": "2020-08-09T05:28", "v": -7.11},

      {"s": "Lynch 1930", "t": "2020-08-07T05:41", "v": -5.47},
      {"s": "Lynch 1930", "t": "2020-08-07T06:14", "v": -5.50},
      {"s": "Lynch 1930", "t": "2020-08-07T06:54", "v": -5.50},
      {"s": "Lynch 1930", "t": "2020-08-07T07:21", "v": -5.58},
      {"s": "Lynch 1930", "t": "2020-08-07T07:49", "v": -5.73},
      {"s": "Lynch 1930", "t": "2020-08-07T08:30", "v": -5.81},
      {"s": "Lynch 1930", "t": "2020-08-07T08:56", "v": -5.96},
      {"s": "Lynch 1930", "t": "2020-08-07T09:23", "v": -6.04},
      {"s": "Lynch 1930", "t": "2020-08-07T10:04", "v": -5.96},
      {"s": "Lynch 1930", "t": "2020-08-07T10:32", "v": -6.11},
      {"s": "Lynch 1930", "t": "2020-08-07T10:59", "v": -6.27},
      {"s": "Lynch 1930", "t": "2020-08-07T11:25", "v": -6.04},
      {"s": "Lynch 1930", "t": "2020-08-07T11:53", "v": -5.65},
      {"s": "Lynch 1930", "t": "2020-08-07T12:12", "v": -6.11},
      {"s": "Lynch 1930", "t": "2020-08-07T12:34", "v": -6.34},
      {"s": "Lynch 1930", "t": "2020-08-07T13:01", "v": -6.73},
      {"s": "Lynch 1930", "t": "2020-08-07T13:27", "v": -7.03},
      {"s": "Lynch 1930", "t": "2020-08-07T13:55", "v": -7.42},
      {"s": "Lynch 1930", "t": "2020-08-07T14:22", "v": -7.65},
      {"s": "Lynch 1930", "t": "2020-08-07T14:49", "v": -7.50},
      {"s": "Lynch 1930", "t": "2020-08-07T15:16", "v": -7.42},
      {"s": "Lynch 1930", "t": "2020-08-07T15:43", "v": -7.65},
      {"s": "Lynch 1930", "t": "2020-08-07T16:10", "v": -7.57},
      {"s": "Lynch 1930", "t": "2020-08-07T16:38", "v": -7.95},
      {"s": "Lynch 1930", "t": "2020-08-07T17:05", "v": -7.73},
      {"s": "Lynch 1930", "t": "2020-08-07T17:32", "v": -7.80},
      {"s": "Lynch 1930", "t": "2020-08-07T17:59", "v": -8.03},
      {"s": "Lynch 1930", "t": "2020-08-07T18:26", "v": -8.49},
      {"s": "Lynch 1930", "t": "2020-08-07T18:53", "v": -8.57},
      {"s": "Lynch 1930", "t": "2020-08-07T19:21", "v": -8.87},
      {"s": "Lynch 1930", "t": "2020-08-07T19:47", "v": -8.80},
      {"s": "Lynch 1930", "t": "2020-08-07T20:14", "v": -8.87},
      {"s": "Lynch 1930", "t": "2020-08-07T20:42", "v": -8.57},
      {"s": "Lynch 1930", "t": "2020-08-07T21:01", "v": -8.57},
      {"s": "Lynch 1930", "t": "2020-08-07T21:09", "v": -8.49},
      {"s": "Lynch 1930", "t": "2020-08-07T21:27", "v": -8.11},
      {"s": "Lynch 1930", "t": "2020-08-07T21:55", "v": -8.03},
      {"s": "Lynch 1930", "t": "2020-08-07T22:22", "v": -8.19},
      {"s": "Lynch 1930", "t": "2020-08-07T22:49", "v": -7.95},
      {"s": "Lynch 1930", "t": "2020-08-07T23:29", "v": -7.80},
      {"s": "Lynch 1930", "t": "2020-08-08T00:10", "v": -7.73},
      {"s": "Lynch 1930", "t": "2020-08-08T00:51", "v": -7.80},
      {"s": "Lynch 1930", "t": "2020-08-08T01:32", "v": -7.73},
      {"s": "Lynch 1930", "t": "2020-08-08T02:12", "v": -7.80},
      {"s": "Lynch 1930", "t": "2020-08-08T02:53", "v": -7.88},
      {"s": "Lynch 1930", "t": "2020-08-08T03:34", "v": -7.80},
      {"s": "Lynch 1930", "t": "2020-08-08T04:14", "v": -7.95},
      {"s": "Lynch 1930", "t": "2020-08-08T04:55", "v": -7.88},
      {"s": "Lynch 1930", "t": "2020-08-08T05:36", "v": -7.95},
      {"s": "Lynch 1930", "t": "2020-08-08T06:16", "v": -7.95},
      {"s": "Lynch 1930", "t": "2020-08-08T06:57", "v": -7.88},
      {"s": "Lynch 1930", "t": "2020-08-08T07:38", "v": -8.03},
      {"s": "Lynch 1930", "t": "2020-08-08T08:18", "v": -8.11},
      {"s": "Lynch 1930", "t": "2020-08-08T08:59", "v": -8.03},
      {"s": "Lynch 1930", "t": "2020-08-08T09:40", "v": -8.11},
      {"s": "Lynch 1930", "t": "2020-08-08T10:20", "v": -7.88},
      {"s": "Lynch 1930", "t": "2020-08-08T10:48", "v": -7.80},
      {"s": "Lynch 1930", "t": "2020-08-08T11:15", "v": -7.49},
      {"s": "Lynch 1930", "t": "2020-08-08T11:42", "v": -7.65},
      {"s": "Lynch 1930", "t": "2020-08-08T12:09", "v": -7.42},
      {"s": "Lynch 1930", "t": "2020-08-08T12:36", "v": -7.50},
      {"s": "Lynch 1930", "t": "2020-08-08T13:03", "v": -7.26},
      {"s": "Lynch 1930", "t": "2020-08-08T13:31", "v": -7.34},
      {"s": "Lynch 1930", "t": "2020-08-08T13:58", "v": -7.19},
      {"s": "Lynch 1930", "t": "2020-08-08T14:24", "v": -7.34},
      {"s": "Lynch 1930", "t": "2020-08-08T14:52", "v": -7.11},
      {"s": "Lynch 1930", "t": "2020-08-08T15:13", "v": -7.49},
      {"s": "Lynch 1930", "t": "2020-08-08T15:33", "v": -7.19},
      {"s": "Lynch 1930", "t": "2020-08-08T16:00", "v": -7.11},
      {"s": "Lynch 1930", "t": "2020-08-08T16:27", "v": -7.49}
    ]
  },
  "layer": [
    {
      "encoding": {
        "x": {
          "field": "t",
          "type": "temporal",
          "title": "fecha y hora",
          "scale": {
            "domain": [
              {"year": 2020, "month": 8, "date": 7, "hours": 3, "minutes": 25},
              {"year": 2020, "month": 8, "date": 9, "hours": 7, "minutes": 54}
            ]
          },
          "axis": {
            "values": [
              {"year": 2020, "month": 8, "date": 7, "hours": 6},
              {"year": 2020, "month": 8, "date": 7, "hours": 12},
              {"year": 2020, "month": 8, "date": 7, "hours": 18},
              {"year": 2020, "month": 8, "date": 8, "hours": 0},
              {"year": 2020, "month": 8, "date": 8, "hours": 6},
              {"year": 2020, "month": 8, "date": 8, "hours": 12},
              {"year": 2020, "month": 8, "date": 8, "hours": 18},
              {"year": 2020, "month": 8, "date": 9, "hours": 0},
              {"year": 2020, "month": 8, "date": 9, "hours": 6}
            ],
            "format": "%d %H:%M",
            "labelAngle": -30,
            "labelAlign": "right",
            "labelBaseline": "top",
            "labelOffset": -5,
            "labelFontSize": 13.9,
            "labelColor": "black",
            "labelPadding": 6.5,
            "labelFlush": false,
            "labelOverlap": false,
            "labelBound": false,
            "tickSize": 4.9,
            "tickWidth": 1.1,
            "tickColor": "black",
            "domain": false,
            "grid": false,
            "titleFontSize": 13.9,
            "titleFontWeight": "normal",
            "titleColor": "black",
            "titlePadding": 3.5
          }
        },
        "y": {
          "field": "v",
          "type": "quantitative",
          "title": "temperatura [°C]",
          "scale": {"domain": [-9.73, 6.645], "nice": false, "zero": false},
          "axis": {
            "values": [-8, -6, -4, -2, 0, 2, 4, 6],
            "labelFontSize": 13.9,
            "labelColor": "black",
            "labelPadding": 4.9,
            "tickSize": 4.9,
            "tickWidth": 1.1,
            "tickColor": "black",
            "domain": false,
            "grid": false,
            "titleFontSize": 13.9,
            "titleFontWeight": "normal",
            "titleColor": "black",
            "titlePadding": 5.6
          }
        }
      },
      "layer": [
        {
          "data": {"name": "marks"},
          "mark": {
            "type": "text",
            "fontSize": 69.4,
            "color": "gray",
            "opacity": 0.2,
            "align": "center",
            "baseline": "middle"
          },
          "encoding": {"text": {"field": "label"}}
        },
        {
          "data": {"name": "temps"},
          "mark": {"type": "line", "strokeWidth": 2.08},
          "encoding": {
            "color": {
              "field": "s",
              "type": "nominal",
              "scale": {
                "domain": ["Otto 870", "V Catedral 1070", "Otto 1400", "Refu López 1600", "Frey 1770", "Lynch 1930"],
                "range": ["#1f77b4", "#ff7f0e", "#2ca02c", "#d62728", "#9467bd", "#8c564b"]
              },
              "legend": {
                "title": null,
                "orient": "none",
                "legendX": 394,
                "legendY": 115,
                "padding": 5.5,
                "strokeColor": "#cccccc",
                "fillColor": "white",
                "cornerRadius": 3,
                "symbolType": "M-3,0H3",
                "symbolSize": 100,
                "symbolStrokeWidth": 2.08,
                "symbolOffset": 10,
                "labelOffset": 15,
                "labelFontSize": 13.9,
                "labelColor": "black",
                "rowPadding": 6.15
              }
            }
          }
        }
      ]
    },
    {
      "data": {"values": [{}]},
      "mark": {"type": "rule", "color": "black", "strokeDash": [7.7, 3.3], "strokeWidth": 2.08},
      "encoding": {"y": {"datum": 0}}
    }
  ]
}
